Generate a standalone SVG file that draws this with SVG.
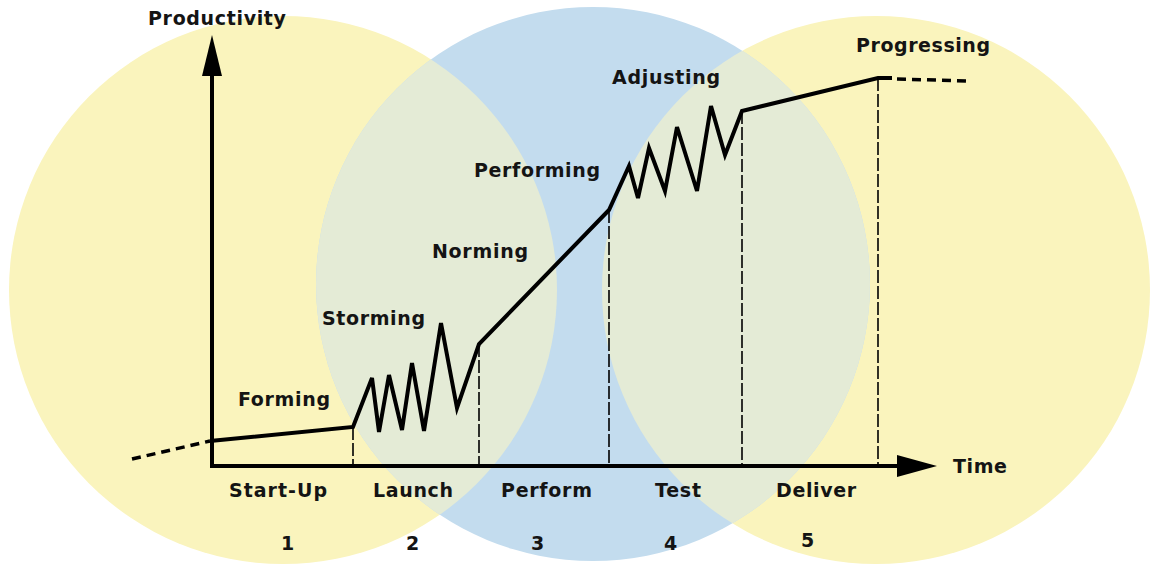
<svg xmlns="http://www.w3.org/2000/svg" width="1153" height="566" viewBox="0 0 1153 566">
<style>
.lbl{font-family:"DejaVu Sans","Verdana",sans-serif;font-weight:bold;font-size:19px;fill:#141414}
.ln{fill:none;stroke:#000;stroke-width:4;stroke-linejoin:miter;stroke-linecap:butt}
.vd{fill:none;stroke:#000;stroke-width:1.6;stroke-dasharray:13 3}
.ext{fill:none;stroke:#000;stroke-width:3.5;stroke-dasharray:9 6}
</style>
<defs>
<clipPath id="cL"><circle cx="283" cy="290" r="274"/></clipPath>
<clipPath id="cR"><circle cx="876" cy="290" r="274"/></clipPath>
</defs>
<rect width="1153" height="566" fill="#ffffff"/>
<g id="phases">
<circle id="c-left" cx="283" cy="290" r="274" fill="#faf4bd"/>
<circle id="c-right" cx="876" cy="290" r="274" fill="#faf4bd"/>
<circle id="c-mid" cx="593" cy="284" r="277" fill="#c3dcee"/>
<circle cx="593" cy="284" r="277" fill="#e4ebd6" clip-path="url(#cL)"/>
<circle cx="593" cy="284" r="277" fill="#e4ebd6" clip-path="url(#cR)"/>
</g>
<g id="axes">
<line x1="212" y1="468" x2="212" y2="70" stroke="#000" stroke-width="4"/>
<polygon points="212,35 222,76 202,76" fill="#000"/>
<line x1="210" y1="466" x2="902" y2="466" stroke="#000" stroke-width="4"/>
<polygon points="937,466 897,455 897,477" fill="#000"/>
</g>
<g id="connectors">
<path class="ext" d="M132,459 L210,441"/>
<path class="ln" d="M210,441 L353,427 L372,378 L379,432 L389,375 L402,430 L412,363 L424,431 L441,323 L457,408 L479,344 L609,210 L629,166 L638,198 L649,148 L665,191 L677,127 L697,191 L711,106 L725,155 L742,111 L878,78 L892,78"/>
<path class="ext" d="M897,79 L968,81"/>
<path class="vd" d="M353,427 V466 M479,344 V466 M609,210 V466 M742,111 V466 M878,78 V466"/>
</g>
<g id="labels">
<text class="lbl" x="148" y="25" textLength="138">Productivity</text>
<text class="lbl" x="953" y="473" textLength="54">Time</text>
<text class="lbl" x="238" y="406" textLength="92">Forming</text>
<text class="lbl" x="322" y="325" textLength="103">Storming</text>
<text class="lbl" x="432" y="258" textLength="96">Norming</text>
<text class="lbl" x="474" y="177" textLength="126">Performing</text>
<text class="lbl" x="612" y="84" textLength="108">Adjusting</text>
<text class="lbl" x="856" y="52" textLength="134">Progressing</text>
<text class="lbl" x="229" y="497" textLength="98">Start-Up</text>
<text class="lbl" x="373" y="497" textLength="80">Launch</text>
<text class="lbl" x="501" y="497" textLength="91">Perform</text>
<text class="lbl" x="655" y="497" textLength="46">Test</text>
<text class="lbl" x="776" y="497" textLength="80">Deliver</text>
<text class="lbl" x="281" y="550">1</text>
<text class="lbl" x="406" y="550">2</text>
<text class="lbl" x="531" y="550">3</text>
<text class="lbl" x="664" y="550">4</text>
<text class="lbl" x="801" y="547">5</text>
</g>
</svg>
